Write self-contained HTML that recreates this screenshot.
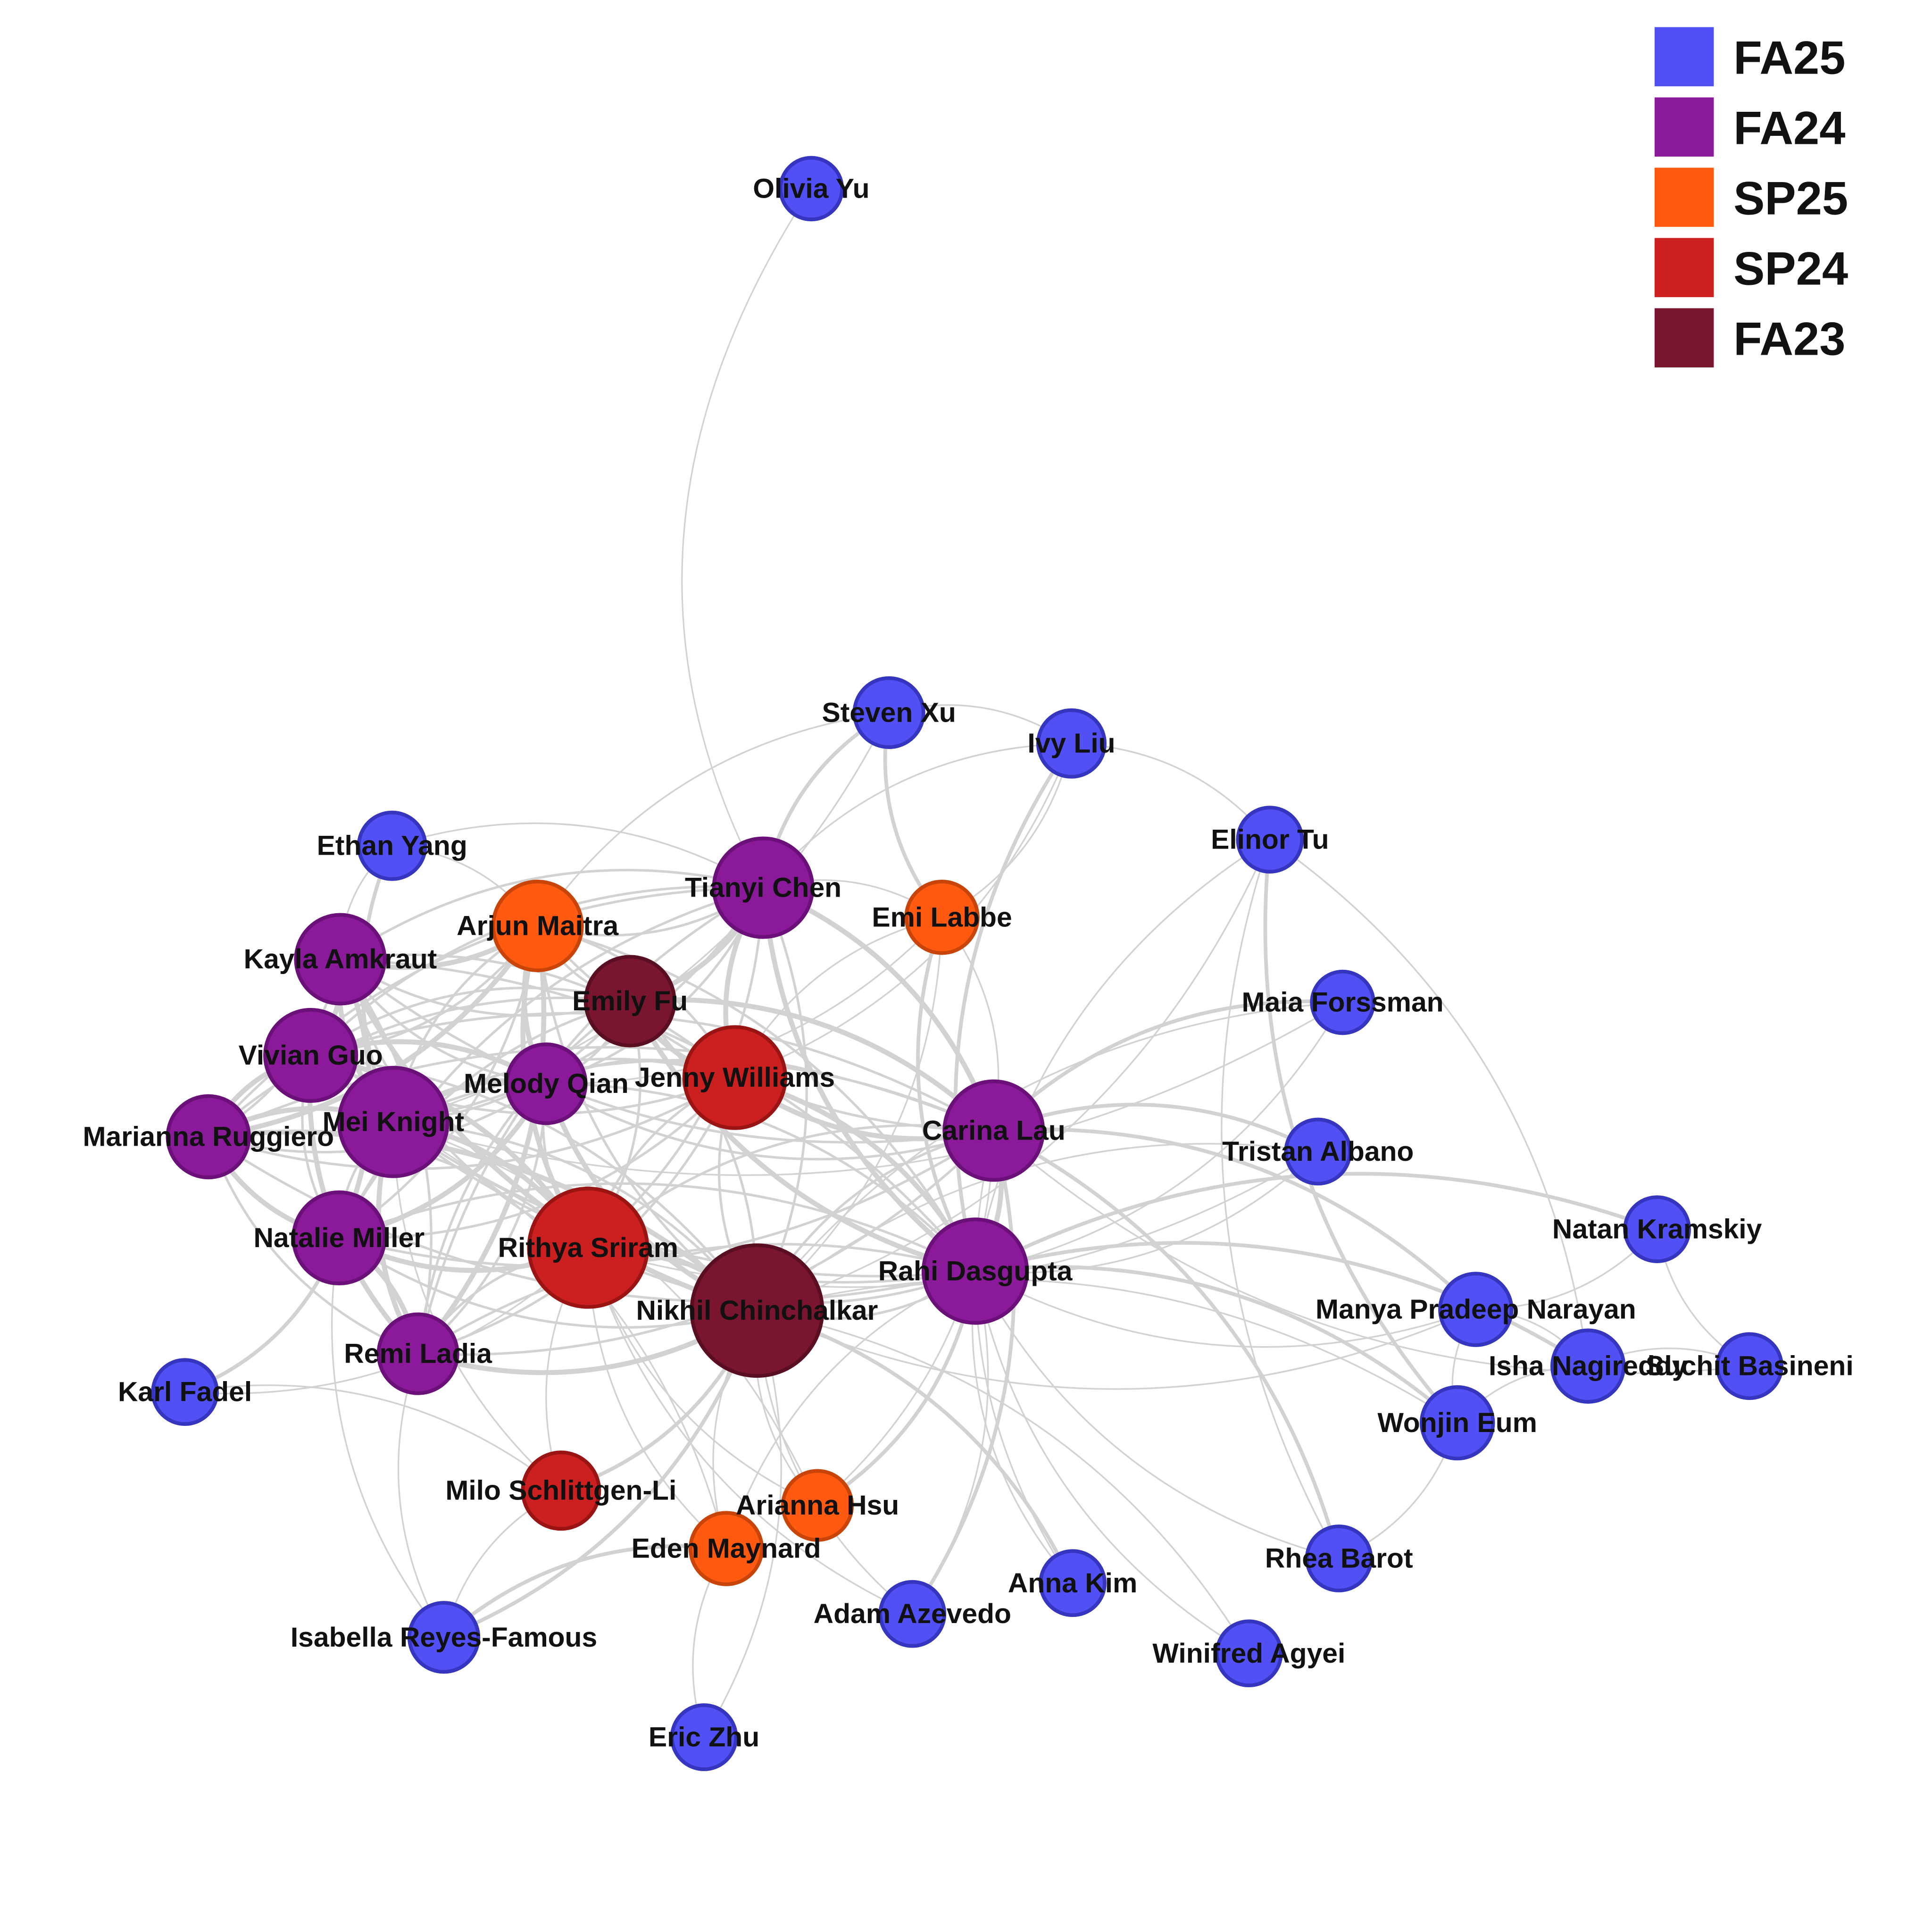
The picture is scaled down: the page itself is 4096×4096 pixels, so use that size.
<!DOCTYPE html>
<html><head><meta charset="utf-8">
<style>
html,body{margin:0;padding:0;background:#fff;}
svg{display:block;}
text{font-family:"Liberation Sans",sans-serif;font-weight:bold;}
</style></head>
<body>
<svg id="s" width="4096" height="4096" viewBox="0 0 1567 1567" xmlns="http://www.w3.org/2000/svg">
<rect width="1567" height="1567" fill="#fff"/>
<path d="M658 153 Q470 440 619 720" fill="none" stroke="#d2d2d2" stroke-width="1.2"/>
<g id="edges" fill="none" stroke="#d2d2d2"></g>
<g id="nodes" stroke-width="3">
<circle cx="658" cy="153" r="25" fill="#5050f5" stroke="#3535c0"/>
<circle cx="721" cy="578" r="28" fill="#5050f5" stroke="#3535c0"/>
<circle cx="869" cy="603" r="27" fill="#5050f5" stroke="#3535c0"/>
<circle cx="318" cy="686" r="27" fill="#5050f5" stroke="#3535c0"/>
<circle cx="1030" cy="681" r="26" fill="#5050f5" stroke="#3535c0"/>
<circle cx="619" cy="720" r="40" fill="#8a1a9a" stroke="#6a1078"/>
<circle cx="436" cy="751" r="36" fill="#ff5a10" stroke="#c84408"/>
<circle cx="764" cy="744" r="29" fill="#ff5a10" stroke="#c84408"/>
<circle cx="276" cy="778" r="36" fill="#8a1a9a" stroke="#6a1078"/>
<circle cx="511" cy="812" r="36" fill="#7a1530" stroke="#5a0e22"/>
<circle cx="1089" cy="813" r="25" fill="#5050f5" stroke="#3535c0"/>
<circle cx="252" cy="856" r="37" fill="#8a1a9a" stroke="#6a1078"/>
<circle cx="443" cy="879" r="32" fill="#8a1a9a" stroke="#6a1078"/>
<circle cx="596" cy="874" r="41" fill="#cc2020" stroke="#9a1414"/>
<circle cx="319" cy="910" r="44" fill="#8a1a9a" stroke="#6a1078"/>
<circle cx="169" cy="922" r="33" fill="#8a1a9a" stroke="#6a1078"/>
<circle cx="806" cy="917" r="40" fill="#8a1a9a" stroke="#6a1078"/>
<circle cx="1069" cy="934" r="26" fill="#5050f5" stroke="#3535c0"/>
<circle cx="1344" cy="997" r="26" fill="#5050f5" stroke="#3535c0"/>
<circle cx="275" cy="1004" r="37" fill="#8a1a9a" stroke="#6a1078"/>
<circle cx="477" cy="1012" r="48" fill="#cc2020" stroke="#9a1414"/>
<circle cx="791" cy="1031" r="42" fill="#8a1a9a" stroke="#6a1078"/>
<circle cx="614" cy="1063" r="53" fill="#7a1530" stroke="#5a0e22"/>
<circle cx="1197" cy="1062" r="29" fill="#5050f5" stroke="#3535c0"/>
<circle cx="1288" cy="1108" r="29" fill="#5050f5" stroke="#3535c0"/>
<circle cx="1419" cy="1108" r="26" fill="#5050f5" stroke="#3535c0"/>
<circle cx="339" cy="1098" r="32" fill="#8a1a9a" stroke="#6a1078"/>
<circle cx="150" cy="1129" r="26" fill="#5050f5" stroke="#3535c0"/>
<circle cx="1182" cy="1154" r="29" fill="#5050f5" stroke="#3535c0"/>
<circle cx="455" cy="1209" r="31" fill="#cc2020" stroke="#9a1414"/>
<circle cx="663" cy="1221" r="28" fill="#ff5a10" stroke="#c84408"/>
<circle cx="589" cy="1256" r="29" fill="#ff5a10" stroke="#c84408"/>
<circle cx="1086" cy="1264" r="26" fill="#5050f5" stroke="#3535c0"/>
<circle cx="870" cy="1284" r="26" fill="#5050f5" stroke="#3535c0"/>
<circle cx="740" cy="1309" r="26" fill="#5050f5" stroke="#3535c0"/>
<circle cx="360" cy="1328" r="28" fill="#5050f5" stroke="#3535c0"/>
<circle cx="1013" cy="1341" r="26" fill="#5050f5" stroke="#3535c0"/>
<circle cx="571" cy="1409" r="26" fill="#5050f5" stroke="#3535c0"/>
</g>
<g font-size="22.5" fill="#111" text-anchor="middle" dominant-baseline="central">
<text x="658" y="153">Olivia Yu</text>
<text x="721" y="578">Steven Xu</text>
<text x="869" y="603">Ivy Liu</text>
<text x="318" y="686">Ethan Yang</text>
<text x="1030" y="681">Elinor Tu</text>
<text x="619" y="720">Tianyi Chen</text>
<text x="436" y="751">Arjun Maitra</text>
<text x="764" y="744">Emi Labbe</text>
<text x="276" y="778">Kayla Amkraut</text>
<text x="511" y="812">Emily Fu</text>
<text x="1089" y="813">Maia Forssman</text>
<text x="252" y="856">Vivian Guo</text>
<text x="443" y="879">Melody Qian</text>
<text x="596" y="874">Jenny Williams</text>
<text x="319" y="910">Mei Knight</text>
<text x="169" y="922">Marianna Ruggiero</text>
<text x="806" y="917">Carina Lau</text>
<text x="1069" y="934">Tristan Albano</text>
<text x="1344" y="997">Natan Kramskiy</text>
<text x="275" y="1004">Natalie Miller</text>
<text x="477" y="1012">Rithya Sriram</text>
<text x="791" y="1031">Rahi Dasgupta</text>
<text x="614" y="1063">Nikhil Chinchalkar</text>
<text x="1197" y="1062">Manya Pradeep Narayan</text>
<text x="1288" y="1108">Isha Nagireddy</text>
<text x="1419" y="1108">Suchit Basineni</text>
<text x="339" y="1098">Remi Ladia</text>
<text x="150" y="1129">Karl Fadel</text>
<text x="1182" y="1154">Wonjin Eum</text>
<text x="455" y="1209">Milo Schlittgen-Li</text>
<text x="663" y="1221">Arianna Hsu</text>
<text x="589" y="1256">Eden Maynard</text>
<text x="1086" y="1264">Rhea Barot</text>
<text x="870" y="1284">Anna Kim</text>
<text x="740" y="1309">Adam Azevedo</text>
<text x="360" y="1328">Isabella Reyes-Famous</text>
<text x="1013" y="1341">Winifred Agyei</text>
<text x="571" y="1409">Eric Zhu</text>
</g>
<g>
<rect x="1342" y="22" width="48" height="48" fill="#5050f5"/>
<rect x="1342" y="79" width="48" height="48" fill="#8a1a9a"/>
<rect x="1342" y="136" width="48" height="48" fill="#ff5a10"/>
<rect x="1342" y="193" width="48" height="48" fill="#cc2020"/>
<rect x="1342" y="250" width="48" height="48" fill="#7a1530"/>
<g font-size="38" fill="#111" dominant-baseline="central">
<text x="1406" y="47">FA25</text>
<text x="1406" y="104">FA24</text>
<text x="1406" y="161">SP25</text>
<text x="1406" y="218">SP24</text>
<text x="1406" y="275">FA23</text>
</g>
</g>
</svg>
<script>
var P={OY:[658,153],SX:[721,578],IL:[869,603],EY:[318,686],ET:[1030,681],TC:[619,720],AM:[436,751],EL:[764,744],KA:[276,778],EF:[511,812],MF:[1089,813],VG:[252,856],MQ:[443,879],JW:[596,874],MK:[319,910],MR:[169,922],CL:[806,917],TA:[1069,934],NK:[1344,997],NM:[275,1004],RS:[477,1012],RD:[791,1031],NC:[614,1063],MP:[1197,1062],IN:[1288,1108],SB:[1419,1108],RL:[339,1098],KF:[150,1129],WE:[1182,1154],ML:[455,1209],AH:[663,1221],EM:[589,1256],RB:[1086,1264],AK:[870,1284],AA:[740,1309],IR:[360,1328],WA:[1013,1341],EZ:[571,1409]};
var core=["TC","AM","KA","EF","VG","MQ","JW","MK","MR","CL","NM","RS","RD","NC","RL"];
var E=[];
for(var i=0;i<core.length;i++)for(var j=i+1;j<core.length;j++)E.push([core[i],core[j],(i+j)%3==0?4:2]);
var extra="SX-TC SX-IL SX-AM SX-MK SX-EL IL-ET IL-TC IL-EL IL-RD IL-JW EY-KA EY-AM EY-MK EY-TC ET-RD ET-NC ET-WE ET-IN EL-TC EL-CL EL-RD EL-NC EL-JW EL-MQ MF-CL MF-RD MF-NC MF-MK TA-CL TA-RD TA-NC TA-RS NK-RD NK-MP NK-SB MP-RD MP-CL MP-IN MP-WE MP-NC IN-RD IN-SB IN-WE SB-CL WE-RD WE-RB WE-NC RB-RD RB-CL WA-RD WA-NC AK-RD AK-NC AA-NC AA-RD AA-RS KF-NM KF-ML KF-RS ML-RS ML-NC ML-MK ML-IR AH-NC AH-RD AH-RS AH-CL EM-NC EM-IR EM-RS EM-MK IR-RL IR-NC IR-NM EZ-NC EZ-EM MR-NM KA-VG ET-RB AK-CL AA-CL EM-RD AH-MK".split(" ");
extra.forEach(function(s,k){var a=s.split("-");E.push([a[0],a[1],k%4==0?3:1.3]);});
var g=document.getElementById("edges"),h="";
E.forEach(function(e,k){var a=P[e[0]],b=P[e[1]];if(!a||!b)return;var mx=(a[0]+b[0])/2,my=(a[1]+b[1])/2,dx=b[0]-a[0],dy=b[1]-a[1];var f=0.22*((k%2)?1:-1);var cx=mx-dy*f,cy=my+dx*f;h+='<path d="M'+a[0]+' '+a[1]+' Q'+cx+' '+cy+' '+b[0]+' '+b[1]+'" stroke-width="'+e[2]+'"/>';});
g.innerHTML=h;
</script>
</body></html>
